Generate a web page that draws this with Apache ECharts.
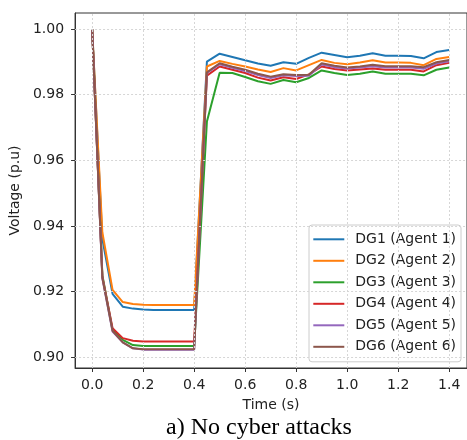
<!DOCTYPE html>
<html>
<head>
<meta charset="utf-8">
<script src="https://cdn.jsdelivr.net/npm/echarts@6/dist/echarts.min.js"></script>
<style>
html,body{margin:0;padding:0;background:#fff;}
#chart{width:467px;height:440px;}
</style>
</head>
<body>
<div id="chart"></div>
<script>
const times = [0,0.04,0.08,0.12,0.16,0.2,0.24,0.28,0.32,0.36,0.4,0.45,0.5,0.55,0.6,0.65,0.7,0.75,0.8,0.85,0.9,0.95,1.0,1.05,1.1,1.15,1.2,1.25,1.3,1.35,1.4];
const seriesNames = ['DG1 (Agent 1)','DG2 (Agent 2)','DG3 (Agent 3)','DG4 (Agent 4)','DG5 (Agent 5)','DG6 (Agent 6)'];
const dg1 = [1.0,0.936,0.9193,0.9154,0.9148,0.9145,0.9144,0.9144,0.9144,0.9144,0.9144,0.9901,0.9925,0.9915,0.9905,0.9895,0.9888,0.9899,0.9894,0.9912,0.9928,0.9921,0.9914,0.9919,0.9926,0.9919,0.9919,0.9918,0.9911,0.9930,0.9936];
const dg2 = [1.0,0.938,0.9205,0.9168,0.9162,0.9160,0.9159,0.9159,0.9159,0.9159,0.9159,0.9886,0.9903,0.9894,0.9886,0.9877,0.9869,0.9881,0.9874,0.9890,0.9906,0.9897,0.9893,0.9898,0.9905,0.9898,0.9898,0.9897,0.9890,0.9909,0.9915];
const dg3 = [1.0,0.925,0.9083,0.9053,0.9037,0.9034,0.9034,0.9034,0.9034,0.9034,0.9034,0.9718,0.9867,0.9866,0.9854,0.9841,0.9833,0.9845,0.9838,0.9851,0.9874,0.9866,0.9860,0.9864,0.9871,0.9864,0.9864,0.9864,0.9859,0.9876,0.9883];
const dg4 = [1.0,0.9245,0.9088,0.9058,0.9050,0.9048,0.9048,0.9048,0.9048,0.9048,0.9048,0.9858,0.9886,0.9876,0.9866,0.9852,0.9843,0.9853,0.9848,0.9862,0.9886,0.9878,0.9874,0.9877,0.9880,0.9876,0.9876,0.9876,0.9871,0.9890,0.9897];
const dg5 = [1.0,0.924,0.9078,0.9045,0.9027,0.9023,0.9023,0.9023,0.9023,0.9023,0.9023,0.9866,0.9893,0.9882,0.9872,0.9860,0.9851,0.9859,0.9857,0.9858,0.9892,0.9884,0.9880,0.9883,0.9887,0.9883,0.9883,0.9883,0.9879,0.9895,0.9902];
const dg6 = [1.0,0.9242,0.9080,0.9045,0.9027,0.9024,0.9024,0.9024,0.9024,0.9024,0.9024,0.9868,0.9896,0.9885,0.9876,0.9864,0.9855,0.9862,0.9860,0.9861,0.9896,0.9888,0.9883,0.9886,0.9891,0.9887,0.9887,0.9887,0.9884,0.9899,0.9906];
const xTicks = [0,0.2,0.4,0.6,0.8,1.0,1.2,1.4];
const yTicks = [0.90,0.92,0.94,0.96,0.98,1.00];
const xLabel = 'Time (s)';
const yLabel = 'Voltage (p.u)';
const caption = 'a) No cyber attacks';

const colors = ['#1f77b4','#ff7f0e','#2ca02c','#d62728','#9467bd','#8c564b'];
const allValues = [dg1,dg2,dg3,dg4,dg5,dg6];
const font = 'DejaVu Sans';

const gridSeries = {
  name:'__grid', type:'line', data:[], z:1, silent:true,
  markLine:{
    silent:true, symbol:['none','none'], animation:false,
    label:{show:false},
    lineStyle:{color:'#d6d6d6', type:[2,2], width:1},
    emphasis:{disabled:true},
    data: xTicks.map(v=>({xAxis:v})).concat(yTicks.map(v=>({yAxis:v})))
  }
};

const chart = echarts.init(document.getElementById('chart'), null, {renderer:'canvas'});
chart.setOption({
  animation:false,
  backgroundColor:'#fff',
  color: colors,
  grid:{left:74, top:13, right:-4, bottom:72, show:true, borderColor:'#333', borderWidth:1, backgroundColor:'transparent'},
  legend:{
    orient:'vertical', left:309, top:225,
    icon:'rect', itemWidth:31, itemHeight:2, itemGap:7.5,
    padding:[7.3,5,8,4.3],
    borderColor:'#cccccc', borderWidth:1, borderRadius:3,
    backgroundColor:'rgba(255,255,255,0.92)',
    textStyle:{fontFamily:font, fontSize:14, color:'#222', lineHeight:14, padding:[0,0,0,6]},
    data: seriesNames
  },
  xAxis:{
    type:'value', min:-0.067, max:1.47,
    name:xLabel, nameLocation:'middle', nameGap:30,
    nameTextStyle:{fontFamily:font, fontSize:14, color:'#222'},
    axisLine:{show:true, onZero:false, lineStyle:{color:'#333', width:1}},
    axisTick:{show:true, length:4, lineStyle:{color:'#333'}, customValues:xTicks},
    axisLabel:{fontFamily:font, fontSize:14, color:'#222', margin:10, customValues:xTicks, formatter:v=>Number(v).toFixed(1)},
    splitLine:{show:false}
  },
  yAxis:{
    type:'value', min:0.8967, max:1.0049,
    name:yLabel, nameLocation:'middle', nameGap:45, nameRotate:90,
    nameTextStyle:{fontFamily:font, fontSize:14, color:'#222'},
    axisLine:{show:true, onZero:false, lineStyle:{color:'#333', width:1}},
    axisTick:{show:true, length:4, lineStyle:{color:'#333'}, customValues:yTicks},
    axisLabel:{fontFamily:font, fontSize:14, color:'#222', margin:11, customValues:yTicks, formatter:v=>Number(v).toFixed(2)},
    splitLine:{show:false}
  },
  graphic:[{
    type:'text', x:259, y:428,
    style:{text:caption, font:'24px "Liberation Serif"', fill:'#000', align:'center', verticalAlign:'middle', textAlign:'center', textVerticalAlign:'middle'}
  }],
  series: [gridSeries].concat(seriesNames.map((n,i)=>({
    name:n, type:'line', showSymbol:false, symbol:'none', z:2,
    lineStyle:{width:2, color:colors[i]},
    itemStyle:{color:colors[i]},
    data: times.map((t,k)=>[t, allValues[i][k]])
  })))
});
</script>
</body>
</html>
